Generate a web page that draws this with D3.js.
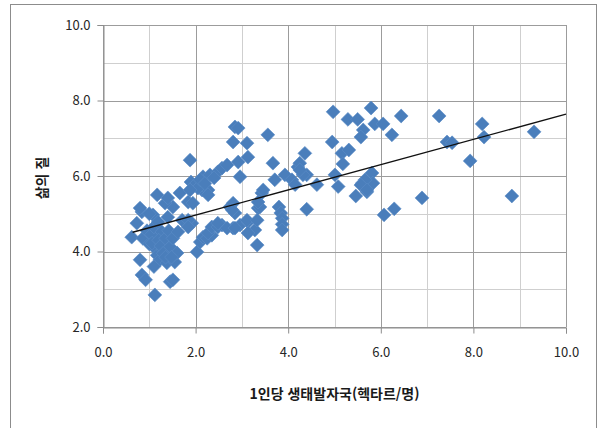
<!DOCTYPE html>
<html lang="ko">
<head>
<meta charset="UTF-8" />
<title>삶의 질 vs 생태발자국</title>
<style>
  * { margin: 0; padding: 0; }
  body { background: #fff; }
  text { font-family: "Noto Sans CJK KR", "Noto Sans", sans-serif; }
</style>
</head>
<body>
<svg id="chart"></svg>
<script src="https://d3js.org/d3.v7.min.js"></script>
<script>
// 1인당 생태발자국 (ha/person), 삶의 질
const footprint = [
  0.62,0.73,0.84,0.80,0.86,0.80,0.84,0.92,1.12,1.08,
  0.95,1.00,1.05,1.10,1.15,1.17,1.19,1.23,1.27,1.30,
  1.06,1.20,1.25,1.35,1.38,1.42,1.45,1.45,1.51,1.55,
  1.60,1.51,1.62,1.71,1.40,1.51,1.34,1.17,1.40,1.66,
  1.00,1.30,1.10,1.35,1.48,
  1.88,1.90,1.99,2.16,2.31,2.14,2.27,2.05,1.88,2.27,
  1.84,1.94,1.92,1.84,1.84,2.03,2.10,2.16,2.25,2.35,
  2.27,2.35,2.48,2.57,2.48,2.48,2.57,2.68,2.10,2.20,2.40,
  2.85,2.92,2.81,3.11,3.13,2.92,2.96,2.74,2.85,2.81,
  2.96,3.13,3.28,3.33,3.35,2.81,2.79,2.68,2.85,3.11,
  3.33,3.39,3.43,3.35,3.13,3.46,
  3.56,3.67,3.71,3.93,4.08,4.15,4.21,4.25,4.36,4.40,
  4.32,4.62,3.80,3.84,3.87,3.87,3.87,4.40,4.25,
  4.97,5.29,5.50,5.79,5.87,6.05,6.24,6.44,5.62,5.57,
  4.95,5.16,5.31,5.18,5.01,5.08,5.46,5.60,5.70,5.81,
  5.83,5.66,5.57,5.70,6.07,6.29,
  6.89,7.26,7.43,7.54,7.93,8.19,8.23,8.83,9.31
];
const quality = [
  4.38,4.75,5.05,5.15,4.35,3.78,3.38,3.25,2.85,4.97,
  4.55,4.20,4.45,4.65,4.05,3.90,4.78,3.78,4.52,4.04,
  4.22,4.30,4.15,4.35,3.70,4.55,4.12,3.20,3.25,3.72,
  3.96,4.35,4.52,4.83,4.91,5.18,5.28,5.50,5.42,5.55,
  5.00,3.95,3.60,3.85,3.85,
  6.42,5.84,5.77,5.98,6.03,5.63,5.63,5.68,5.63,5.50,
  5.31,5.28,4.75,4.83,4.65,3.99,4.25,4.38,4.35,4.43,
  4.49,4.65,4.65,4.70,4.75,6.11,6.21,6.29,5.90,5.80,5.95,
  7.30,7.27,6.90,6.87,6.50,6.37,5.98,5.18,5.02,4.62,
  4.70,4.78,4.57,4.17,5.15,5.28,5.10,4.62,4.62,4.83,
  4.83,5.18,5.55,5.31,4.49,5.63,
  7.09,6.34,5.90,6.03,5.90,5.77,6.24,6.34,6.60,6.03,
  6.03,5.77,5.18,5.02,4.88,4.72,4.57,5.12,6.16,
  7.70,7.50,7.50,7.80,7.38,7.38,7.09,7.59,7.22,7.03,
  6.90,6.60,6.69,6.32,6.03,5.72,5.47,5.81,5.58,6.08,
  5.81,5.90,5.76,5.63,4.97,5.13,
  5.42,7.59,6.90,6.88,6.40,7.38,7.03,5.47,7.17
];
// linear trend line ends
const trendX = [0.64, 10];
const trendY = [4.51, 7.64];

const xTicks = [0, 2, 4, 6, 8, 10];
const yTicks = [2, 4, 6, 8, 10];
const xMinor = [1, 3, 5, 7, 9];
const yMinor = [3, 5, 7, 9];

const width = 598, height = 428;
const margin = { top: 25, right: 32, bottom: 101, left: 103 };

const svg = d3.select("#chart").attr("width", width).attr("height", height);

// outer chart frame
svg.append("rect")
  .attr("x", 10.5).attr("y", 4.5)
  .attr("width", 586).attr("height", 440)
  .attr("fill", "none").attr("stroke", "#8c8c8c");

const x = d3.scaleLinear().domain([0, 10]).range([margin.left, width - margin.right]);
const y = d3.scaleLinear().domain([2, 10]).range([height - margin.bottom, margin.top]);

const grid = svg.append("g");
// minor grid
grid.selectAll(".vmin").data(xMinor).join("line")
  .attr("x1", d => Math.round(x(d)) + 0.5).attr("x2", d => Math.round(x(d)) + 0.5)
  .attr("y1", y(10)).attr("y2", y(2))
  .attr("stroke", "#cfcfcf");
grid.selectAll(".hmin").data(yMinor).join("line")
  .attr("y1", d => Math.round(y(d)) + 0.5).attr("y2", d => Math.round(y(d)) + 0.5)
  .attr("x1", x(0)).attr("x2", x(10))
  .attr("stroke", "#cfcfcf");
// major grid
grid.selectAll(".vmaj").data(xTicks).join("line")
  .attr("x1", d => Math.round(x(d)) + 0.5).attr("x2", d => Math.round(x(d)) + 0.5)
  .attr("y1", y(10)).attr("y2", y(2))
  .attr("stroke", "#9c9c9c");
grid.selectAll(".hmaj").data(yTicks).join("line")
  .attr("y1", d => Math.round(y(d)) + 0.5).attr("y2", d => Math.round(y(d)) + 0.5)
  .attr("x1", x(0)).attr("x2", x(10))
  .attr("stroke", "#9c9c9c");

// axes
const xAxis = svg.append("g")
  .attr("transform", `translate(0,${Math.round(y(2)) + 0.5})`)
  .call(d3.axisBottom(x).tickValues(xTicks).tickSize(6).tickPadding(14).tickFormat(d3.format(".1f")));
const yAxis = svg.append("g")
  .attr("transform", `translate(${Math.round(x(0)) + 0.5},0)`)
  .call(d3.axisLeft(y).tickValues(yTicks).tickSize(6).tickPadding(7).tickFormat(d3.format(".1f")));
[xAxis, yAxis].forEach(g => {
  g.select(".domain").attr("stroke", "#8c8c8c");
  g.selectAll(".tick line").attr("stroke", "#8c8c8c");
  g.selectAll(".tick text").attr("fill", "#262626").attr("font-size", 13)
    .attr("font-family", "'Noto Sans CJK KR', sans-serif");
});

// points
const pts = footprint.map((v, i) => ({ x: v, y: quality[i] }));
const diamond = d3.symbol().type(d3.symbolSquare).size(96);
svg.append("g").selectAll("path").data(pts).join("path")
  .attr("d", diamond)
  .attr("transform", d => `translate(${x(d.x)},${y(d.y)}) rotate(45)`)
  .attr("fill", "#4a7ebb")
  .attr("stroke", "#5b8cc6").attr("stroke-width", 0.6);

// trend line
svg.append("line")
  .attr("x1", x(trendX[0])).attr("y1", y(trendY[0]))
  .attr("x2", x(trendX[1])).attr("y2", y(trendY[1]))
  .attr("stroke", "#111").attr("stroke-width", 1.4);

// axis titles
svg.append("text")
  .attr("x", (x(0) + x(10)) / 2).attr("y", 399)
  .attr("text-anchor", "middle").attr("font-size", 14).attr("font-weight", "bold")
  .attr("fill", "#1a1a1a")
  .text("1인당 생태발자국(헥타르/명)");
svg.append("text")
  .attr("transform", "translate(47,178) rotate(-90)")
  .attr("text-anchor", "middle").attr("font-size", 14).attr("font-weight", "bold")
  .attr("fill", "#1a1a1a")
  .text("삶의 질");
</script>
</body>
</html>
